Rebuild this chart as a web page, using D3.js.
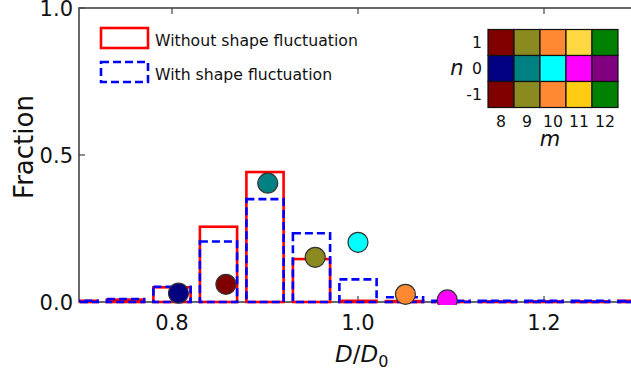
<!DOCTYPE html>
<html>
<head>
<meta charset="utf-8">
<script src="https://cdn.jsdelivr.net/npm/d3@7"></script>
<style>
  body { margin: 0; background: #fff; }
  svg { display: block; font-family: "DejaVu Sans", sans-serif; }
</style>
</head>
<body>
<svg id="chart" width="631" height="373"></svg>
<script>
// histogram bins (bin centres, D/D0)
var binCenters = [0.70, 0.75, 0.80, 0.85, 0.90, 0.95, 1.00, 1.05, 1.10, 1.15, 1.20, 1.25, 1.30];
var withoutFluct = [0.004, 0.008, 0.050, 0.256, 0.442, 0.146, 0.004, 0.003, 0.001, 0.002, 0.002, 0.002, 0.004];
var withFluct    = [0.004, 0.010, 0.052, 0.206, 0.350, 0.234, 0.077, 0.016, 0.004, 0.004, 0.004, 0.004, 0.003];

// mode points
var pointX = [0.807, 0.858, 0.903, 0.954, 1.000, 1.051, 1.096];
var pointY = [0.030, 0.060, 0.404, 0.152, 0.203, 0.026, 0.007];
var pointColors = ["#000080", "#800000", "#008080", "#8a8a20", "#00ffff", "#ff8833", "#ff00ff"];

// inset colour table (rows n = 1, 0, -1; cols m = 8..12)
var mLabels = ["8", "9", "10", "11", "12"];
var nLabels = ["1", "0", "-1"];
var insetColors = [
  ["#800000", "#8a8a20", "#ff8833", "#ffd740", "#008000"],
  ["#000080", "#008080", "#00ffff", "#ff00ff", "#800080"],
  ["#800000", "#8a8a20", "#ff8833", "#ffcc11", "#008000"]
];

var xTicks = [0.8, 1.0, 1.2];
var yTicks = [0.0, 0.5, 1.0];
var barWidth = 0.04;

var svg = d3.select("#chart");
var x = d3.scaleLinear().domain([0.7, 1.3]).range([79, 637]);
var y = d3.scaleLinear().domain([0, 1]).range([302, 8]);

svg.append("defs").append("clipPath").attr("id", "plotclip")
  .append("rect")
  .attr("x", x(0.7)).attr("y", y(1) - 3)
  .attr("width", x(1.3) - x(0.7) + 5).attr("height", y(0) - y(1) + 6);

var spineColor = "#444";

// frame
var frame = svg.append("g");
frame.append("rect")
  .attr("x", x(0.7)).attr("y", y(1))
  .attr("width", x(1.3) - x(0.7)).attr("height", y(0) - y(1))
  .style("fill", "none").style("stroke", spineColor).style("stroke-width", 1.6);

// ticks (inward)
xTicks.forEach(function (t) {
  frame.append("line").attr("x1", x(t)).attr("x2", x(t)).attr("y1", y(0)).attr("y2", y(0) - 6)
    .style("stroke", spineColor).style("stroke-width", 1.2);
  frame.append("line").attr("x1", x(t)).attr("x2", x(t)).attr("y1", y(1)).attr("y2", y(1) + 6)
    .style("stroke", spineColor).style("stroke-width", 1.2);
  svg.append("text").attr("x", x(t)).attr("y", 330)
    .attr("text-anchor", "middle").style("font-size", "21px").style("fill", "#111")
    .text(d3.format(".1f")(t));
});
yTicks.forEach(function (t) {
  frame.append("line").attr("x1", x(0.7)).attr("x2", x(0.7) + 6).attr("y1", y(t)).attr("y2", y(t))
    .style("stroke", spineColor).style("stroke-width", 1.2);
  frame.append("line").attr("x1", x(1.3)).attr("x2", x(1.3) - 6).attr("y1", y(t)).attr("y2", y(t))
    .style("stroke", spineColor).style("stroke-width", 1.2);
  svg.append("text").attr("x", 73).attr("y", y(t) + 7.5)
    .attr("text-anchor", "end").style("font-size", "21px").style("fill", "#111")
    .text(d3.format(".1f")(t));
});

// bars
var plot = svg.append("g").attr("clip-path", "url(#plotclip)");

plot.selectAll("rect.without").data(binCenters).enter().append("rect")
  .attr("class", "without")
  .attr("x", function (d) { return x(d - barWidth / 2); })
  .attr("width", function (d) { return x(d + barWidth / 2) - x(d - barWidth / 2); })
  .attr("y", function (d, i) { return y(withoutFluct[i]); })
  .attr("height", function (d, i) { return y(0) - y(withoutFluct[i]); })
  .style("fill", "none").style("stroke", "#ff0000").style("stroke-width", 2.6);

plot.selectAll("rect.with").data(binCenters).enter().append("rect")
  .attr("class", "with")
  .attr("x", function (d) { return x(d - barWidth / 2); })
  .attr("width", function (d) { return x(d + barWidth / 2) - x(d - barWidth / 2); })
  .attr("y", function (d, i) { return y(withFluct[i]); })
  .attr("height", function (d, i) { return y(0) - y(withFluct[i]); })
  .style("fill", "none").style("stroke", "#0000ff").style("stroke-width", 2.6)
  .style("stroke-dasharray", "8,4");

// points
plot.selectAll("circle.pt").data(pointX).enter().append("circle")
  .attr("class", "pt")
  .attr("cx", function (d) { return x(d); })
  .attr("cy", function (d, i) { return y(pointY[i]); })
  .attr("r", 10)
  .style("fill", function (d, i) { return pointColors[i]; })
  .style("stroke", "#333").style("stroke-width", 1.2);

// axis labels
svg.append("text")
  .attr("transform", "translate(33,147) rotate(-90)")
  .attr("text-anchor", "middle").style("font-size", "26px").style("fill", "#111")
  .text("Fraction");

var xl = svg.append("text").attr("x", 335).attr("y", 362).style("font-size", "23px").style("fill", "#111");
xl.append("tspan").style("font-style", "italic").text("D");
xl.append("tspan").text("/");
xl.append("tspan").style("font-style", "italic").text("D");
xl.append("tspan").attr("dy", 5).style("font-size", "16px").text("0");

// legend
var legend = svg.append("g");
legend.append("rect").attr("x", 101).attr("y", 28).attr("width", 47).attr("height", 20)
  .style("fill", "none").style("stroke", "#ff0000").style("stroke-width", 2.6);
legend.append("rect").attr("x", 101).attr("y", 62).attr("width", 47).attr("height", 20)
  .style("fill", "none").style("stroke", "#0000ff").style("stroke-width", 2.6)
  .style("stroke-dasharray", "8,4");
legend.append("text").attr("x", 155).attr("y", 46).style("font-size", "15.7px").style("fill", "#111")
  .text("Without shape fluctuation");
legend.append("text").attr("x", 155).attr("y", 80).style("font-size", "15.7px").style("fill", "#111")
  .text("With shape fluctuation");

// inset colour table
var ix = d3.scaleBand().domain(mLabels).range([488, 618]);
var iy = d3.scaleBand().domain(nLabels).range([29.5, 107.5]);
var inset = svg.append("g");
nLabels.forEach(function (n, r) {
  mLabels.forEach(function (m, c) {
    inset.append("rect")
      .attr("x", ix(m)).attr("y", iy(n))
      .attr("width", ix.bandwidth()).attr("height", iy.bandwidth())
      .style("fill", insetColors[r][c]).style("stroke", "#111").style("stroke-width", 1.2);
  });
  inset.append("text").attr("x", 482).attr("y", iy(n) + iy.bandwidth() / 2 + 5.5)
    .attr("text-anchor", "end").style("font-size", "15.7px").style("fill", "#111").text(n);
});
mLabels.forEach(function (m) {
  inset.append("text").attr("x", ix(m) + ix.bandwidth() / 2).attr("y", 127)
    .attr("text-anchor", "middle").style("font-size", "15.7px").style("fill", "#111").text(m);
});
inset.append("text").attr("x", 457).attr("y", 75).attr("text-anchor", "middle")
  .style("font-size", "21px").style("font-style", "italic").style("fill", "#111").text("n");
inset.append("text").attr("x", 550).attr("y", 146).attr("text-anchor", "middle")
  .style("font-size", "21px").style("font-style", "italic").style("fill", "#111").text("m");
</script>
</body>
</html>
